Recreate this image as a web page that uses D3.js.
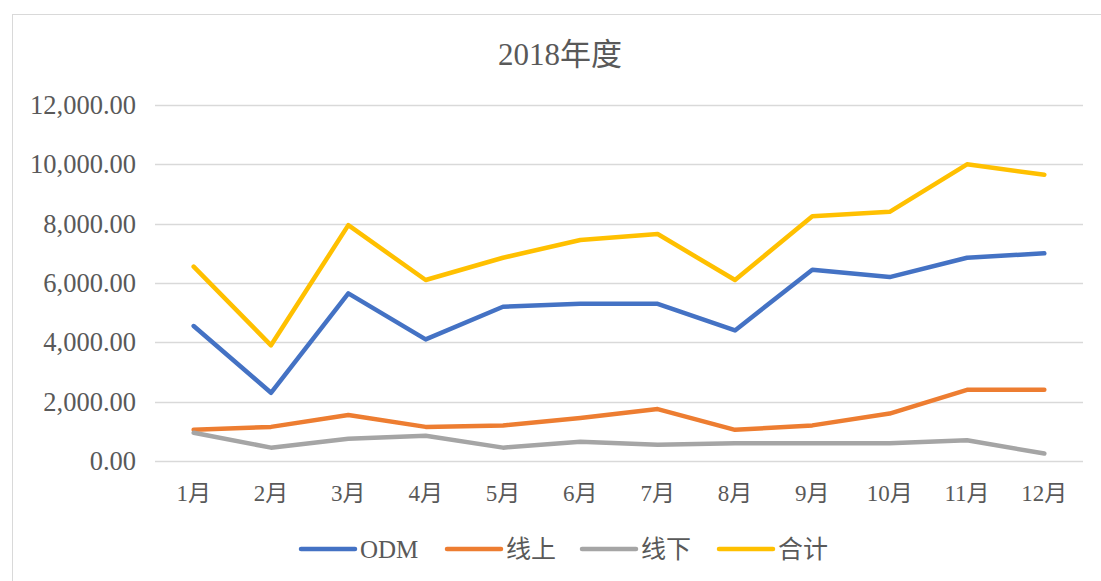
<!DOCTYPE html>
<html>
<head>
<meta charset="utf-8">
<script src="https://cdn.jsdelivr.net/npm/d3@7"></script>
<style>
  html, body { margin: 0; padding: 0; background: #fff; }
  svg { display: block; }
  text { font-family: "Liberation Serif", "Times New Roman", "Noto Sans CJK SC", serif; fill: #595959; }
</style>
</head>
<body>
<svg id="chart" width="1101" height="581"></svg>
<script>
// Monthly figures for 2018
const months = ["1月", "2月", "3月", "4月", "5月", "6月", "7月", "8月", "9月", "10月", "11月", "12月"];
const odm    = [4550, 2300, 5650, 4100, 5200, 5300, 5300, 4400, 6450, 6200, 6850, 7000];
const online = [1050, 1150, 1550, 1150, 1200, 1450, 1750, 1050, 1200, 1600, 2400, 2400];
const offline = [950, 450, 750, 850, 450, 650, 550, 600, 600, 600, 700, 250];
const total  = [6550, 3900, 7950, 6100, 6850, 7450, 7650, 6100, 8250, 8400, 10000, 9650];
const yTicks = [0, 2000, 4000, 6000, 8000, 10000, 12000];
const seriesNames = ["ODM", "线上", "线下", "合计"];
const seriesColors = ["#4472C4", "#ED7D31", "#A5A5A5", "#FFC000"];

const series = [odm, online, offline, total].map((values, i) => ({
  name: seriesNames[i], color: seriesColors[i], values
}));

const svg = d3.select("#chart");

// Chart area frame
svg.append("rect")
  .attr("x", 12.5).attr("y", 14.5)
  .attr("width", 1120).attr("height", 600)
  .attr("fill", "none").attr("stroke", "#d9d9d9").attr("stroke-width", 1);

const plot = { left: 155, right: 1083, top: 105, bottom: 461 };

const x = d3.scaleBand().domain(months).range([plot.left, plot.right]);
const y = d3.scaleLinear().domain([0, 12000]).range([plot.bottom, plot.top]);

// Title
svg.append("text")
  .attr("x", 560).attr("y", 65)
  .attr("text-anchor", "middle")
  .style("font-size", "31px")
  .text("2018年度");

// Horizontal gridlines
svg.append("g")
  .selectAll("line")
  .data(yTicks)
  .join("line")
  .attr("x1", plot.left).attr("x2", plot.right)
  .attr("y1", d => Math.round(y(d)) + 0.5).attr("y2", d => Math.round(y(d)) + 0.5)
  .attr("stroke", "#d9d9d9").attr("stroke-width", 1.3);

// Y axis labels
const yAxis = d3.axisLeft(y)
  .tickValues(yTicks)
  .tickFormat(d3.format(",.2f"))
  .tickSize(0)
  .tickPadding(0);
const gy = svg.append("g")
  .attr("transform", `translate(${136},0)`)
  .call(yAxis);
gy.select(".domain").remove();
gy.selectAll("text")
  .style("font-size", "26.5px")
  .style("font-family", "'Liberation Serif', 'Times New Roman', serif")
  .attr("fill", "#595959");

// X axis labels
const xAxis = d3.axisBottom(x).tickSize(0).tickPadding(0);
const gx = svg.append("g")
  .attr("transform", `translate(0,${plot.bottom + 24})`)
  .call(xAxis);
gx.select(".domain").remove();
gx.selectAll("text")
  .style("font-size", "23px")
  .attr("fill", "#595959");

// Series lines
const line = d3.line()
  .x((d, i) => x(months[i]) + x.bandwidth() / 2)
  .y(d => y(d));

svg.append("g")
  .selectAll("path")
  .data(series)
  .join("path")
  .attr("d", d => line(d.values))
  .attr("fill", "none")
  .attr("stroke", d => d.color)
  .attr("stroke-width", 4.5)
  .attr("stroke-linejoin", "round")
  .attr("stroke-linecap", "round");

// Legend
const legendX = [301, 447, 582, 719];
const legend = svg.append("g")
  .selectAll("g")
  .data(series)
  .join("g")
  .attr("transform", (d, i) => `translate(${legendX[i]},549)`);
legend.append("line")
  .attr("x1", 0).attr("x2", 54)
  .attr("y1", 0).attr("y2", 0)
  .attr("stroke", d => d.color)
  .attr("stroke-width", 4.5)
  .attr("stroke-linecap", "round");
legend.append("text")
  .attr("x", 59).attr("y", 9)
  .style("font-size", "25px")
  .text(d => d.name);
</script>
</body>
</html>
